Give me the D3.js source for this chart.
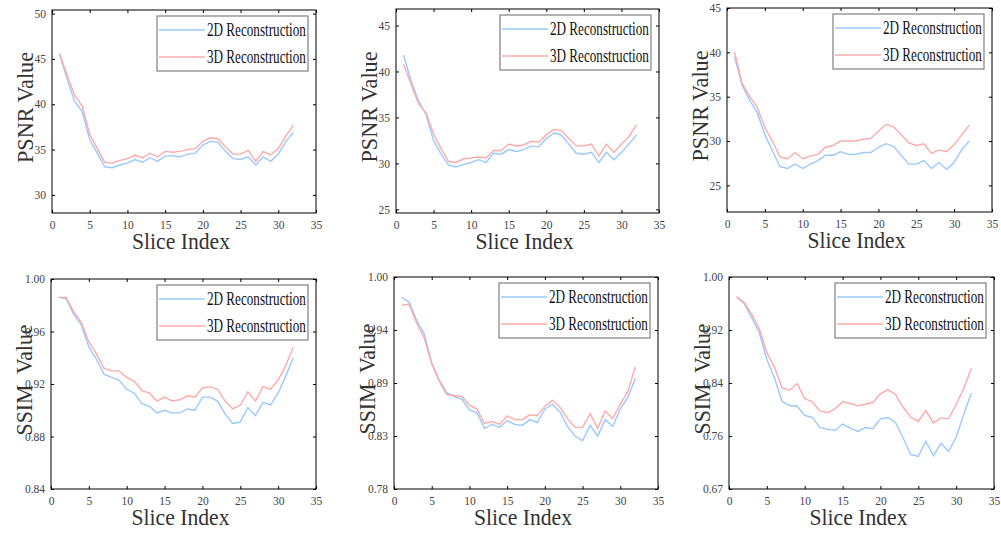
<!DOCTYPE html>
<html>
<head>
<meta charset="utf-8">
<script src="https://cdn.jsdelivr.net/npm/d3@7"></script>
<style>
  body { margin: 0; background: #fff; }
  svg text { font-family: "Liberation Serif", "Times New Roman", serif; }
</style>
</head>
<body>
<div id="chart"></div>
<script>
// slice indices shared by every panel
const slices = [1,2,3,4,5,6,7,8,9,10,11,12,13,14,15,16,17,18,19,20,21,22,23,24,25,26,27,28,29,30,31,32];
const xTicks = [0,5,10,15,20,25,30,35];
const seriesNames = ['2D Reconstruction', '3D Reconstruction'];

// PSNR, left panel
const psnrA2D = [45.5,42.8,40.3,39.2,36.1,34.6,33.1,33.0,33.3,33.5,33.9,33.6,34.1,33.7,34.3,34.3,34.2,34.5,34.6,35.5,35.9,35.8,34.8,34.0,33.9,34.2,33.3,34.2,33.7,34.5,35.9,36.9];
const psnrA3D = [45.6,43.2,41.0,39.8,36.7,35.1,33.6,33.5,33.8,34.0,34.4,34.1,34.6,34.2,34.8,34.7,34.8,35.0,35.1,35.9,36.3,36.2,35.3,34.5,34.5,34.9,33.7,34.8,34.4,35.1,36.5,37.7];
// PSNR, middle panel
const psnrB2D = [41.8,39.0,36.8,35.3,32.5,31.0,29.8,29.6,29.9,30.1,30.4,30.1,31.1,31.0,31.5,31.3,31.5,31.9,31.8,32.7,33.3,33.1,32.1,31.1,31.0,31.2,30.1,31.2,30.4,31.2,32.1,33.1];
const psnrB3D = [40.8,38.6,36.5,35.5,33.2,31.6,30.2,30.1,30.5,30.6,30.7,30.6,31.4,31.4,32.1,31.9,32.0,32.4,32.3,33.1,33.7,33.6,32.7,31.9,31.9,32.1,30.8,32.1,31.2,32.1,32.9,34.2];
// PSNR, right panel
const psnrC2D = [39.5,36.3,34.6,33.2,30.7,28.9,27.1,26.9,27.4,26.9,27.4,27.8,28.4,28.4,28.8,28.5,28.5,28.7,28.7,29.3,29.7,29.4,28.4,27.4,27.4,27.8,26.9,27.6,26.8,27.6,29.0,30.0];
const psnrC3D = [40.0,36.5,35.0,33.8,31.5,30.0,28.2,28.0,28.7,28.0,28.3,28.5,29.3,29.5,30.0,30.0,30.0,30.2,30.3,31.1,31.9,31.6,30.7,29.8,29.5,29.7,28.6,29.0,28.8,29.6,30.7,31.8];
// SSIM, left panel
const ssimA2D = [0.986,0.985,0.973,0.965,0.948,0.939,0.9275,0.925,0.923,0.916,0.913,0.905,0.903,0.898,0.900,0.898,0.898,0.901,0.900,0.910,0.910,0.907,0.897,0.890,0.891,0.902,0.896,0.906,0.904,0.913,0.926,0.940];
const ssimA3D = [0.986,0.986,0.975,0.967,0.952,0.943,0.932,0.930,0.930,0.925,0.922,0.915,0.913,0.907,0.910,0.907,0.908,0.911,0.910,0.917,0.918,0.916,0.907,0.901,0.904,0.914,0.907,0.918,0.916,0.923,0.934,0.948];
// SSIM, middle panel
const ssimB2D = [0.979,0.974,0.955,0.941,0.911,0.893,0.880,0.876,0.873,0.862,0.859,0.843,0.847,0.844,0.851,0.847,0.846,0.852,0.849,0.863,0.868,0.860,0.845,0.835,0.830,0.846,0.835,0.852,0.845,0.863,0.875,0.895];
const ssimB3D = [0.9705,0.972,0.952,0.937,0.910,0.892,0.878,0.877,0.876,0.867,0.863,0.848,0.850,0.847,0.856,0.852,0.852,0.857,0.856,0.866,0.872,0.865,0.853,0.844,0.844,0.858,0.843,0.861,0.853,0.868,0.881,0.907];
// SSIM, right panel
const ssimC2D = [0.970,0.960,0.9385,0.916,0.8755,0.848,0.8125,0.806,0.805,0.791,0.788,0.773,0.770,0.7686,0.778,0.772,0.767,0.7727,0.771,0.786,0.788,0.780,0.757,0.732,0.7293,0.752,0.730,0.749,0.737,0.758,0.7923,0.825];
const ssimC3D = [0.970,0.962,0.9435,0.922,0.8856,0.864,0.8327,0.829,0.839,0.8165,0.8115,0.7974,0.7954,0.801,0.8115,0.809,0.8055,0.808,0.8105,0.8236,0.830,0.8226,0.8034,0.7883,0.7823,0.7984,0.7797,0.7873,0.786,0.8075,0.8317,0.862];

// y tick values and the labels printed beside them
const psnrTicksA = [30,35,40,45,50];
const psnrTicksB = [25,30,35,40,45];
const psnrTicksC = [25,30,35,40,45];
const ssimTicksA = [0.84,0.88,0.92,0.96,1.00];
const ssimLabelsA = ['0.84','0.88','0.92','0.96','1.00'];
const ssimTicksB = [0.78,0.835,0.89,0.945,1.00];
const ssimLabelsB = ['0.78','0.83','0.89','0.94','1.00'];
const ssimTicksC = [0.68,0.76,0.84,0.92,1.00];
const ssimLabelsC = ['0.67','0.76','0.84','0.92','1.00'];

const colors = ['#99c9ff', '#ffaaaa'];

const panels = [
  {box: [52, 316, 10, 213],  yDomain: [28, 50.4],   ticks: psnrTicksA, labels: null, data: [psnrA2D, psnrA3D], ylabel: 'PSNR Value'},
  {box: [396, 659, 9, 213],  yDomain: [24.6, 46.8], ticks: psnrTicksB, labels: null, data: [psnrB2D, psnrB3D], ylabel: 'PSNR Value'},
  {box: [727, 992, 8, 212],  yDomain: [22, 45],     ticks: psnrTicksC, labels: null, data: [psnrC2D, psnrC3D], ylabel: 'PSNR Value'},
  {box: [51, 316, 279, 489], yDomain: [0.84, 1.00], ticks: ssimTicksA, labels: ssimLabelsA, data: [ssimA2D, ssimA3D], ylabel: 'SSIM  Value'},
  {box: [394, 658, 277, 489], yDomain: [0.78, 1.00], ticks: ssimTicksB, labels: ssimLabelsB, data: [ssimB2D, ssimB3D], ylabel: 'SSIM  Value'},
  {box: [729, 994, 277, 489], yDomain: [0.68, 1.00], ticks: ssimTicksC, labels: ssimLabelsC, data: [ssimC2D, ssimC3D], ylabel: 'SSIM  Value'}
];

const width = 1001, height = 533;
const svg = d3.select('#chart').append('svg')
  .attr('width', width).attr('height', height)
  .attr('viewBox', [0, 0, width, height]);

// squeeze a text horizontally (in its own frame) to a target length
function squeeze(sel, target, base) {
  const w = sel.node().getComputedTextLength();
  sel.attr('transform', `${base} scale(${target / w},1)`);
}

panels.forEach((p) => {
  const [left, right, top, bottom] = p.box;
  const x = d3.scaleLinear().domain([0, 35]).range([left, right]);
  const y = d3.scaleLinear().domain(p.yDomain).range([bottom, top]);
  const g = svg.append('g');

  // axes with inward ticks on all four sides
  const tickFmt = (d, i) => p.labels ? p.labels[i] : d;
  g.append('g').attr('transform', `translate(0,${bottom})`)
    .call(d3.axisBottom(x).tickValues(xTicks).tickSizeInner(-3).tickSizeOuter(0).tickPadding(8));
  g.append('g').attr('transform', `translate(${left},0)`)
    .call(d3.axisLeft(y).tickValues(p.ticks).tickFormat(tickFmt).tickSizeInner(-3).tickSizeOuter(0).tickPadding(6));
  g.append('g').attr('transform', `translate(0,${top})`)
    .call(d3.axisTop(x).tickValues(xTicks).tickSizeInner(-3).tickSizeOuter(0).tickFormat(''));
  g.append('g').attr('transform', `translate(${right},0)`)
    .call(d3.axisRight(y).tickValues(p.ticks).tickSizeInner(-3).tickSizeOuter(0).tickFormat(''));
  g.selectAll('.domain').remove();
  g.selectAll('.tick line').attr('stroke', '#000');
  g.selectAll('.tick text').attr('fill', '#444').style('font-size', '11.5px')
    .style('font-family', '"Liberation Serif", "Times New Roman", serif');

  g.append('rect').attr('x', left).attr('y', top)
    .attr('width', right - left).attr('height', bottom - top)
    .attr('fill', 'none').attr('stroke', '#000').attr('stroke-width', 1);

  // series lines
  const line = d3.line().x((d, i) => x(slices[i])).y((d) => y(d));
  p.data.forEach((series, k) => {
    g.append('path').datum(series)
      .attr('fill', 'none').attr('stroke', colors[k]).attr('stroke-width', 1.4)
      .attr('d', line);
  });

  // axis titles
  const xt = g.append('text').attr('x', 0).attr('y', 0)
    .attr('text-anchor', 'middle').attr('fill', '#333').style('font-size', '24px')
    .text('Slice Index');
  squeeze(xt, 98, `translate(${(left + right) / 2 - 3},${bottom + 36})`);
  const yt = g.append('text').attr('x', 0).attr('y', 0)
    .attr('text-anchor', 'middle').attr('fill', '#333').style('font-size', '23px')
    .style('white-space', 'pre')
    .text(p.ylabel);
  squeeze(yt, 111, `translate(${left - 19},${(top + bottom) / 2 - 4}) rotate(-90)`);

  // legend
  const lx = right - 159, ly = top + 6;
  const leg = g.append('g').attr('transform', `translate(${lx},${ly})`);
  leg.append('rect').attr('width', 151).attr('height', 55)
    .attr('fill', '#fff').attr('stroke', '#8a8a8a').attr('stroke-width', 1.3);
  seriesNames.forEach((name, k) => {
    const ry = 14 + k * 27;
    leg.append('line').attr('x1', 2).attr('x2', 48).attr('y1', ry).attr('y2', ry)
      .attr('stroke', colors[k]).attr('stroke-width', 1.6);
    const t = leg.append('text').attr('x', 0).attr('y', 0)
      .attr('fill', '#111').style('font-size', '18px')
      .text(name);
    squeeze(t, 99, `translate(50,${ry + 6})`);
  });
});
</script>
</body>
</html>
